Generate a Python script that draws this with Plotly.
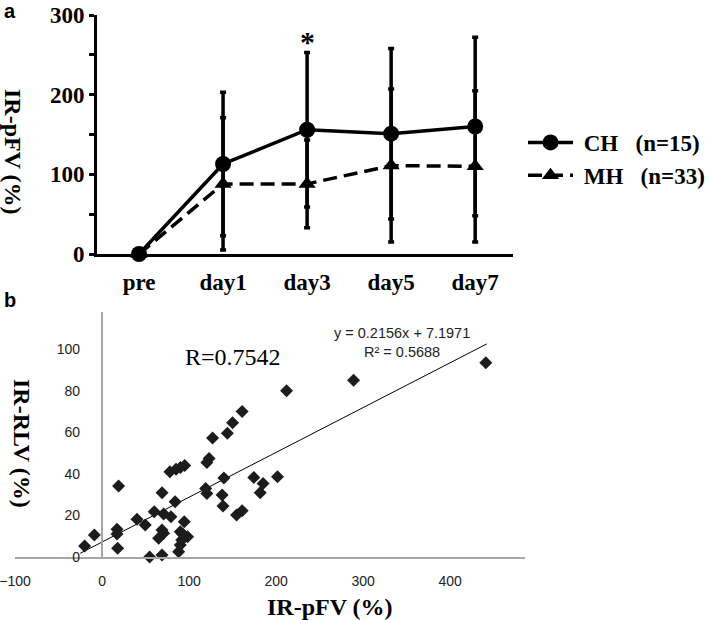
import plotly.graph_objects as go

# ---------------- Panel a data ----------------
days = ["pre", "day1", "day3", "day5", "day7"]
ch_mean = [0, 113, 156, 151, 160]
ch_sd = [0, 90, 97, 107, 112]
mh_mean = [0, 88, 88, 111, 110]
mh_sd = [0, 83, 55, 96, 95]
ch_name = "\u00a0CH\u00a0\u00a0\u00a0(n=15)"
mh_name = "\u00a0MH\u00a0\u00a0\u00a0(n=33)"

# ---------------- Panel b data ----------------
pfv = [441, 289, 212, 161, 150, 144, 127, 123, 120.5, 78, 85, 90, 95,
       19, 69, 84, 119, 120.5, 140, 138, 139, 154.6, 161, 174.4, 185,
       181.7, 201.6, 60, 70.8, 79.2, 40.2, 49.7, 94.5, 17.2, 17.2, -8.8,
       -20, 17.9, 68.9, 70.8, 65, 89.9, 92.6, 98.3, 91.6, 89.9, 88, 54.7, 68.9]
rlv = [93.4, 85, 80, 70, 64.6, 59.5, 57.3, 47.4, 45.5, 41, 42.2, 43, 44,
       34.1, 30.9, 26.6, 33, 30.6, 38, 29.8, 24.5, 20.2, 22.3, 38.3, 35.4,
       30.9, 38.6, 21.8, 20.7, 19.4, 18.1, 15.4, 17, 13.3, 11.1, 10.6,
       5.3, 4.2, 13, 11.4, 9, 12.2, 11.1, 9.8, 8.2, 5.8, 2.5, 0, 1]
slope = 0.2156
intercept = 7.1971
fit_x = [-25, 442]
fit_y = [slope * v + intercept for v in fit_x]

W, H = 709, 620
def px(x):
    return x / W
def py(y):
    return 1 - y / H

SERIF = "Liberation Serif, Times New Roman, serif"
SANS = "Liberation Sans, Arial, sans-serif"

fig = go.Figure()

fig.add_trace(go.Scatter(
    x=days, y=ch_mean, name=ch_name, mode="lines+markers",
    line=dict(color="black", width=3.5),
    marker=dict(symbol="circle", size=16, color="black"),
    error_y=dict(type="data", array=ch_sd, visible=True, thickness=3.5, width=3, color="black"),
    xaxis="x", yaxis="y", cliponaxis=False, legendgroup="a",
))
fig.add_trace(go.Scatter(
    x=days, y=mh_mean, name=mh_name, mode="lines+markers",
    line=dict(color="black", width=3.5, dash="14px,7px"),
    marker=dict(symbol="triangle-up", size=15, color="black"),
    error_y=dict(type="data", array=mh_sd, visible=True, thickness=3.5, width=3, color="black"),
    xaxis="x", yaxis="y", cliponaxis=False, legendgroup="b",
))

fig.add_trace(go.Scatter(
    x=fit_x, y=fit_y, mode="lines", line=dict(color="black", width=1),
    xaxis="x2", yaxis="y2", showlegend=False, hoverinfo="skip",
))
fig.add_trace(go.Scatter(
    x=pfv, y=rlv, mode="markers",
    marker=dict(symbol="diamond", size=10, color="#1c1c1c"),
    xaxis="x2", yaxis="y2", showlegend=False, cliponaxis=False,
))

fig.update_layout(
    width=W, height=H, margin=dict(l=0, r=0, t=0, b=0, pad=0, autoexpand=False),
    paper_bgcolor="white", plot_bgcolor="white",
    xaxis=dict(
        domain=[px(97), px(513)], anchor="y", type="category",
        categoryorder="array", categoryarray=days, range=[-0.5, 4.45],
        showline=True, linewidth=3, linecolor="black", ticks="",
        showgrid=False, zeroline=False, ticklabelstandoff=5, automargin=False,
        tickfont=dict(family=SERIF, size=23, color="black", weight="bold"),
    ),
    yaxis=dict(
        domain=[py(254), py(15)], anchor="x", range=[0, 300], dtick=100,
        showline=True, linewidth=3, linecolor="black",
        ticks="outside", ticklen=5, tickwidth=2.5, tickcolor="black",
        minor=dict(dtick=50, ticks="outside", ticklen=5, tickwidth=2.5, tickcolor="black"),
        showgrid=False, zeroline=False, ticklabelstandoff=0, automargin=False,
        tickfont=dict(family=SERIF, size=23, color="black", weight="bold"),
    ),
    xaxis2=dict(
        domain=[px(15), px(525)], anchor="y2", range=[-100, 486], dtick=100,
        showline=True, linewidth=1.5, linecolor="#a6a6a6", ticks="",
        showgrid=False, zeroline=False, ticklabelstandoff=10, automargin=False,
        ticklabeloverflow="allow",
        tickfont=dict(family=SANS, size=14, color="#222222"),
    ),
    yaxis2=dict(
        domain=[py(557), py(311.7)], anchor="free", position=px(101.7),
        range=[0, 118], dtick=20, automargin=False, ticklabeloverflow="allow",
        showline=True, linewidth=1.5, linecolor="#a6a6a6", ticks="",
        showgrid=False, zeroline=False, ticklabelstandoff=18,
        tickfont=dict(family=SANS, size=14, color="#222222"),
    ),
    legend=dict(
        x=px(523), y=py(121), xanchor="left", yanchor="top",
        font=dict(family=SERIF, size=23, color="black", weight="bold"),
        bgcolor="rgba(0,0,0,0)", traceorder="grouped", tracegroupgap=0,
        itemwidth=45,
    ),
    showlegend=True,
)

def ann(text, x, y, size, family, angle=0, bold=False, color="black"):
    fig.add_annotation(
        text=text, x=px(x), y=py(y), xref="paper", yref="paper",
        xanchor="center", yanchor="middle", showarrow=False, textangle=angle,
        font=dict(family=family, size=size, color=color, weight="bold" if bold else "normal"),
    )

ann("a", 10, 11, 20, SANS, bold=True)
ann("b", 10, 300, 20, SANS, bold=True)
ann("IR-pFV (%)", 13, 152, 24, SERIF, angle=90, bold=True)
ann("IR-RLV (%)", 22, 443, 24, SERIF, angle=90, bold=True)
ann("IR-pFV (%)", 330, 607, 24, SERIF, bold=True)
ann("R=0.7542", 233, 357, 24, SERIF)
ann("y = 0.2156x + 7.1971", 402, 333, 14.5, SANS, color="#222222")
ann("R\u00b2 = 0.5688", 402, 352, 14.5, SANS, color="#222222")

# significance asterisk above day3 (data coordinates)
fig.add_annotation(
    text="*", x="day3", y=244, xref="x", yref="y", showarrow=False,
    yanchor="bottom", font=dict(family=SERIF, size=30, color="black", weight="bold"),
)

# remove the browser's default page margin so the figure sits at the top-left corner
fig.write_html(
    "out.html",
    config={"displayModeBar": False},
    post_script="document.body.style.margin='0';document.body.style.padding='0';",
)
